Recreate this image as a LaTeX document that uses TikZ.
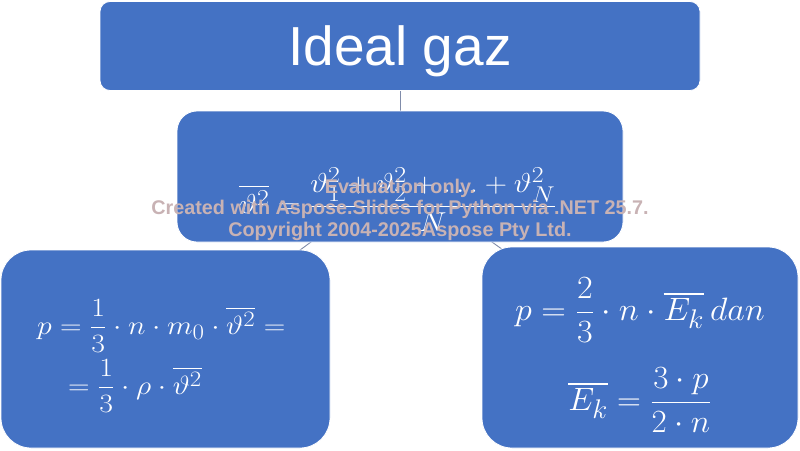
\documentclass[tikz,border=0pt]{standalone}
\usepackage{fontspec}
\usepackage{amsmath}
\usepackage{graphicx}
\newfontfamily\arialf{Liberation Sans}
\usetikzlibrary{backgrounds}
\definecolor{boxblue}{RGB}{68,114,196}
\definecolor{linkgray}{RGB}{128,140,170}
\definecolor{wmark}{RGB}{200,178,180}
\newcommand{\bigmath}[3]{\scalebox{#1}[#2]{\fontsize{24.88}{26}\selectfont$\displaystyle #3$}}
\tikzset{
  smbox/.style={draw=white, line width=0.8pt, fill=boxblue, rounded corners=#1, inner sep=0pt},
  mtext/.style={text=white, inner sep=0pt},
  link/.style={draw=linkgray, line width=0.9pt},
  wm/.style={text=wmark, inner sep=0pt, font=\arialf\bfseries\fontsize{19.8}{22}\selectfont}
}
\begin{document}
\begin{tikzpicture}[x=1pt,y=-1pt]
\useasboundingbox (0,0) rectangle (800,450);
\node[smbox=10pt, minimum width=600pt, minimum height=89pt] (top) at (400,46) {};
\node[smbox=20pt, minimum width=446pt, minimum height=131pt] (mid) at (400,176.5) {};
\node[smbox=30pt, minimum width=329pt, minimum height=198pt] (left) at (165.5,349) {};
\node[smbox=30pt, minimum width=316pt, minimum height=201pt] (right) at (640,347.5) {};
\begin{scope}[on background layer]
\draw[link] (top.center) -- (mid.center);
\draw[link] (mid.center) -- (left.center);
\draw[link] (mid.center) -- (right.center);
\end{scope}
\node[text=white, inner sep=0pt, font=\arialf\fontsize{55}{60}\selectfont, anchor=base] (title) at (400,65) {Ideal gaz};
\node[mtext, anchor=base] (midf) at (398,213) {\bigmath{1.24}{1.1}{\overline{\vartheta^2}=\frac{\vartheta_1^2+\vartheta_2^2+\ldots+\vartheta_N^2}{N}}};
\node[mtext, anchor=base west] (l1) at (37,334) {\bigmath{1.2}{1.06}{p=\frac{1}{3}\cdot n\cdot m_0\cdot\overline{\vartheta^2}=}};
\node[mtext, anchor=base west] (l2) at (68,394) {\bigmath{1.2}{1.06}{=\frac{1}{3}\cdot\rho\cdot\overline{\vartheta^2}}};
\node[mtext, anchor=base] (r1) at (640,320.5) {\bigmath{1.37}{1.3}{p=\frac{2}{3}\cdot n\cdot\overline{E_k}\,dan}};
\node[mtext, anchor=base] (r2) at (640,410.5) {\bigmath{1.33}{1.3}{\overline{E_k}=\frac{3\cdot p}{2\cdot n}}};
\node[wm, anchor=base] (w1) at (400,193) {Evaluation only.};
\node[wm, anchor=base] (w2) at (400,214.5) {Created with Aspose.Slides for Python via .NET 25.7.};
\node[wm, anchor=base] (w3) at (400,236) {Copyright 2004-2025Aspose Pty Ltd.};
\end{tikzpicture}
\end{document}
